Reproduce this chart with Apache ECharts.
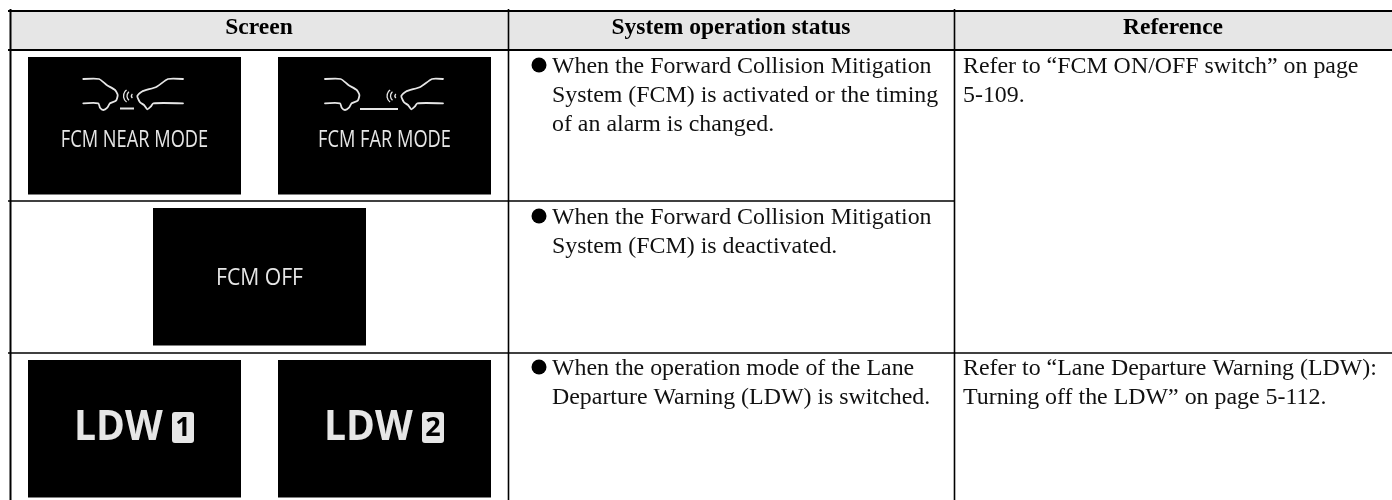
<!DOCTYPE html>
<html><head><meta charset="utf-8"><style>html,body{margin:0;padding:0;background:#fff}#c{width:1392px;height:500px}</style>
<script src="https://cdn.jsdelivr.net/npm/echarts@6/dist/echarts.min.js"></script></head>
<body><div id="c"></div>
<script>
const headers = ['Screen', 'System operation status', 'Reference'];
const statusRow1 = ['When the Forward Collision Mitigation', 'System (FCM) is activated or the timing', 'of an alarm is changed.'];
const statusRow2 = ['When the Forward Collision Mitigation', 'System (FCM) is deactivated.'];
const statusRow3 = ['When the operation mode of the Lane', 'Departure Warning (LDW) is switched.'];
const referenceRow1 = ['Refer to “FCM ON/OFF switch” on page', '5-109.'];
const referenceRow3 = ['Refer to “Lane Departure Warning (LDW):', 'Turning off the LDW” on page 5-112.'];
const screenLabels = ['FCM NEAR MODE', 'FCM FAR MODE', 'FCM OFF', 'LDW', 'LDW'];
const badgeLabels = ['1', '2'];

const S = 'Liberation Serif', INK = '#000', PALE = '#e6e6e6';
const g = [];
const rect = (x, y, w, h, fill) => g.push({type:'rect', shape:{x, y, width:w, height:h}, style:{fill}});
const line = (x1, y1, x2, y2, w, c) => g.push({type:'line', shape:{x1, y1, x2, y2}, style:{stroke:c||INK, lineWidth:w}});
const text = (t, x, y, o, sx) => g.push({type:'text', x, y, scaleX:sx||1, style:Object.assign({text:t, fill:'#111', font:'23.9px "'+S+'"', textAlign:'left', textVerticalAlign:'middle'}, o||{})});
const poly = (pts, w, smooth) => g.push({type:'polyline', shape:{points:pts, smooth:smooth||0}, style:{stroke:PALE, fill:null, lineWidth:w||1.5, lineCap:'round', lineJoin:'round'}});

// header band and rules
rect(11, 12, 1381, 37, PALE);
line(8, 11, 1392, 11, 2);
line(8, 50, 1392, 50, 2);
line(8, 201, 954, 201, 1.6);
line(8, 353, 1392, 353, 1.6);
line(10.5, 9, 10.5, 500, 2);
line(508.5, 9, 508.5, 500, 1.6);
line(954.5, 9, 954.5, 500, 1.6);

// headers
const hf = 'bold 23.5px "'+S+'"';
text(headers[0], 259, 28, {font:hf, textAlign:'center', fill:INK});
text(headers[1], 731, 28, {font:hf, textAlign:'center', fill:INK});
text(headers[2], 1173, 28, {font:hf, textAlign:'center', fill:INK});

// bullets + body text
function block(lines, x, y0, bullet) {
  lines.forEach((l, i) => text(l, x, y0 + i * 29));
  if (bullet) g.push({type:'circle', shape:{cx:x - 13, cy:y0 - 2, r:7.5}, style:{fill:INK}});
}
block(statusRow1, 552, 67, true);
block(statusRow2, 552, 218, true);
block(statusRow3, 552, 369, true);
block(referenceRow1, 963, 67, false);
block(referenceRow3, 963, 369, false);

// black screens
[[28,57],[278,57],[153,208],[28,360],[278,360]].forEach(p => rect(p[0], p[1], 213, 137.5, '#000'));

// FCM screen labels
const fcm = '400 24px "Open Sans"';
text(screenLabels[0], 134.5, 140.5, {font:fcm, textAlign:'center', fill:PALE}, 0.76);
text(screenLabels[1], 384.5, 140.5, {font:fcm, textAlign:'center', fill:PALE}, 0.76);
text(screenLabels[2], 259.5, 278, {font:'400 23px "Open Sans"', textAlign:'center', fill:PALE}, 0.92);

// car icon
const leftOutline = [[83.3,79],[99,79],[106.7,85],[115,90],[117.7,95],[116,100.7],[110,103.3],[107.3,107.7],[103.3,110],[100,107.7],[98.3,103.3],[83.3,103.3]];
const rightOutline = [[168,79],[156.7,86.7],[141.7,91.7],[137.3,96],[140,102.3],[144,105],[147.3,109.3],[150.7,106.7],[153.3,103.3]];
function leftCar(dx) { poly(leftOutline.map(p => [p[0]+dx, p[1]]), 1.8, 0.2); }
function rightCar(dx, endX) {
  poly([[endX,79]].concat(rightOutline.map(p => [p[0]+dx, p[1]])).concat([[endX,103.3]]), 1.8, 0.2);
}
function waves(dx) {
  [[131,7.5,0.7,1.3],[132.5,5.5,0.72,1.28],[134,2.5,0.72,1.28]].forEach(a => g.push({type:'arc', shape:{cx:a[0]+dx, cy:96, r:a[1], startAngle:Math.PI*a[2], endAngle:Math.PI*a[3]}, style:{stroke:PALE, fill:null, lineWidth:1.3}}));
}
leftCar(0); rightCar(0, 183); waves(0);
line(120, 108.5, 134, 108.5, 2, PALE);
leftCar(241.7); rightCar(264, 443); waves(263.5);
line(360, 109, 398, 109, 2, PALE);

// LDW screens
const ldw = 'bold 42px "Open Sans"';
[[74,172],[324,422]].forEach((p,i) => {
  text(screenLabels[3+i], p[0], 428.5, {font:ldw, fill:PALE}, 0.93);
  g.push({type:'rect', shape:{x:p[1], y:412, width:22, height:31, r:3}, style:{fill:PALE}});
  text(badgeLabels[i], p[1]+11, 428, {font:'bold 27px "Open Sans"', textAlign:'center', fill:'#000'});
});

const chart = echarts.init(document.getElementById('c'), null, {renderer:'canvas'});
chart.setOption({animation:false, backgroundColor:'#fff', graphic:{elements:g}});
</script></body></html>
